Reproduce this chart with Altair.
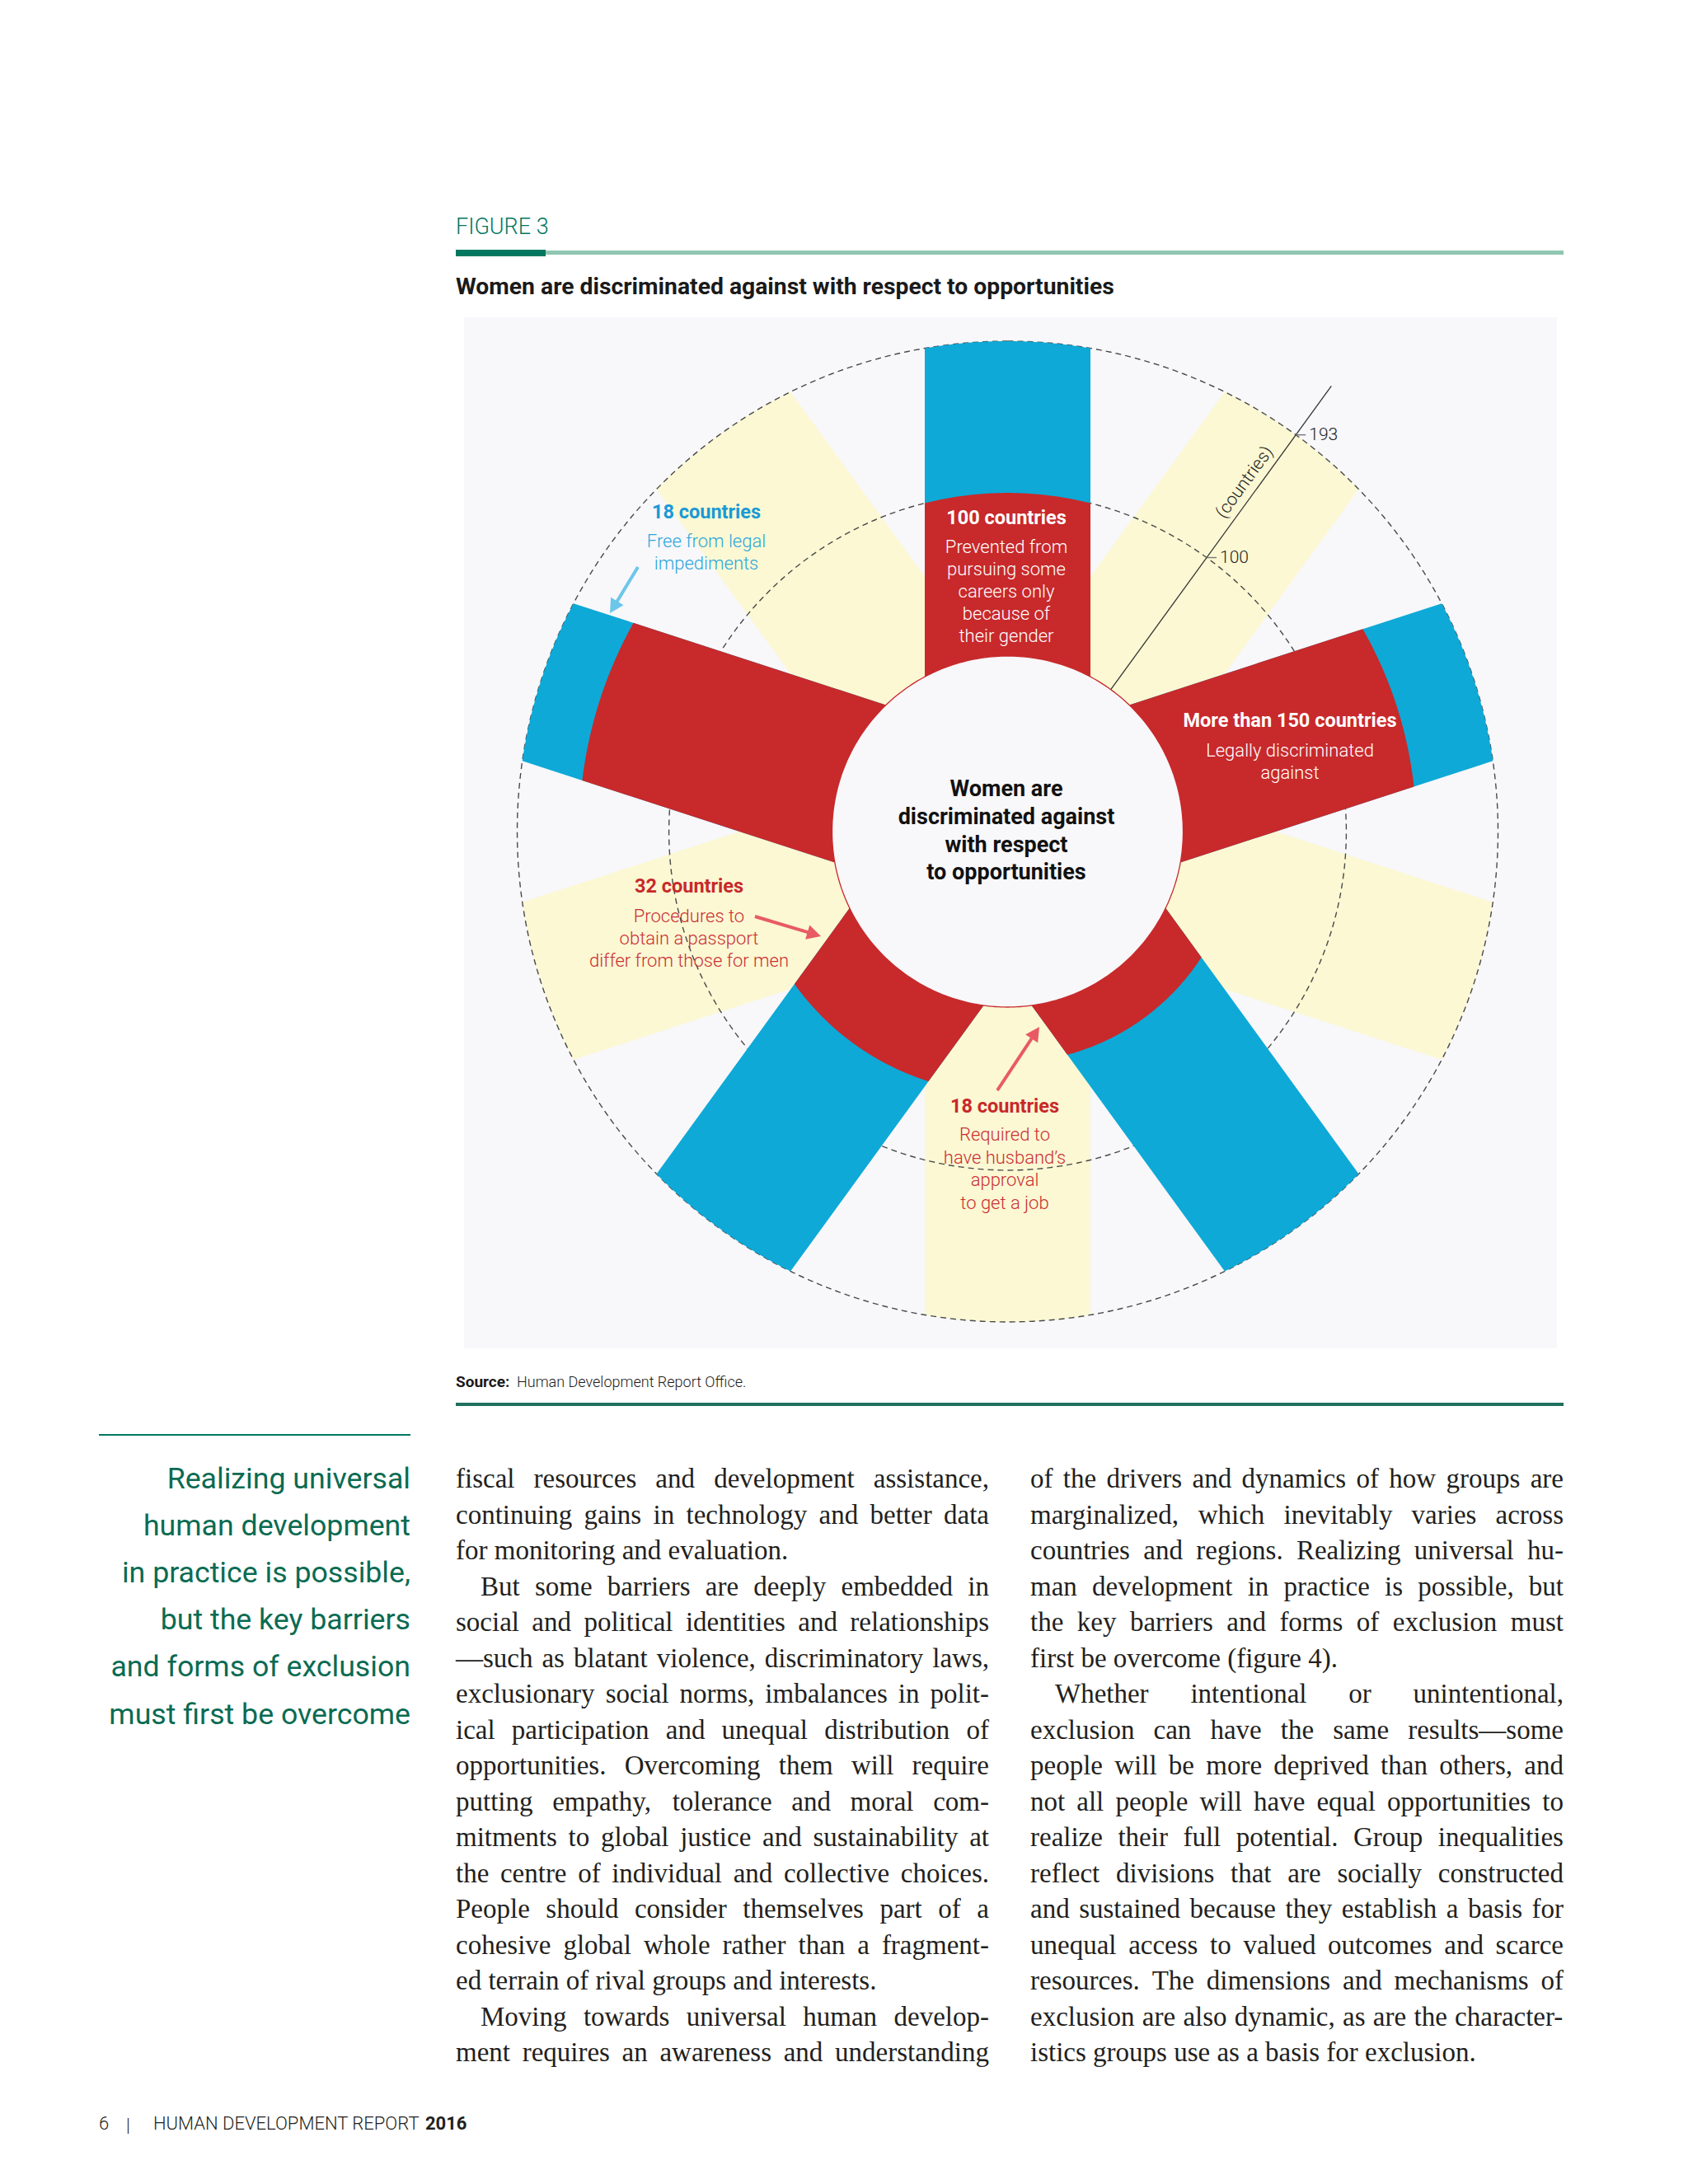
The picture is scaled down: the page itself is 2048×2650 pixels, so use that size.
import math
import altair as alt

# ---------------- data ----------------
spoke_angles = [0, 72, 144, 216, 288]          # degrees, clockwise from 12 o'clock
red_counts = [100, 143, 34, 53, 155]           # countries (red part of each spoke)
total_countries = 193                          # full length of every spoke
band_angles = [36, 108, 180, 252, 324]         # pale yellow spokes (all 193)
ring_values = [100, 193]                       # dashed reference circles
axis_angle = 36
axis_ticks = [100, 193]
axis_extent = 230
axis_title = "(countries)"

callouts = [
    ["18 countries", "Free from legal", "impediments"],
    ["100 countries", "Prevented from", "pursuing some", "careers only", "because of", "their gender"],
    ["More than 150 countries", "Legally discriminated", "against"],
    ["32 countries", "Procedures to", "obtain a passport", "differ from those for men"],
    ["18 countries", "Required to", "have husband\u2019s", "approval", "to get a job"],
]
centre_lines = ["Women are", "discriminated against", "with respect", "to opportunities"]

figure_label = "FIGURE 3"
figure_title = "Women are discriminated against with respect to opportunities"
source_bold = "Source:"
source_text = "Human Development Report Office."
sidebar_lines = ["Realizing universal", "human development", "in practice is possible,",
                 "but the key barriers", "and forms of exclusion", "must first be overcome"]
col1_lines = [
    "fiscal resources and development assistance,",
    "continuing gains in technology and better data",
    "for monitoring and evaluation.",
    "But some barriers are deeply embedded in",
    "social and political identities and relationships",
    "\u2014such as blatant violence, discriminatory laws,",
    "exclusionary social norms, imbalances in polit-",
    "ical participation and unequal distribution of",
    "opportunities. Overcoming them will require",
    "putting empathy, tolerance and moral com-",
    "mitments to global justice and sustainability at",
    "the centre of individual and collective choices.",
    "People should consider themselves part of a",
    "cohesive global whole rather than a fragment-",
    "ed terrain of rival groups and interests.",
    "Moving towards universal human develop-",
    "ment requires an awareness and understanding",
]
col1_par_end = [2, 14]
col1_indent = [3, 15]
col2_lines = [
    "of the drivers and dynamics of how groups are",
    "marginalized, which inevitably varies across",
    "countries and regions. Realizing universal hu-",
    "man development in practice is possible, but",
    "the key barriers and forms of exclusion must",
    "first be overcome (figure 4).",
    "Whether intentional or unintentional,",
    "exclusion can have the same results\u2014some",
    "people will be more deprived than others, and",
    "not all people will have equal opportunities to",
    "realize their full potential. Group inequalities",
    "reflect divisions that are socially constructed",
    "and sustained because they establish a basis for",
    "unequal access to valued outcomes and scarce",
    "resources. The dimensions and mechanisms of",
    "exclusion are also dynamic, as are the character-",
    "istics groups use as a basis for exclusion.",
]
col2_par_end = [5, 16]
col2_indent = [6]
footer_page = "6"
footer_text = "HUMAN DEVELOPMENT REPORT"
footer_year = "2016"

# ---------------- styles / layout ----------------
SANS = "Roboto, 'Liberation Sans', sans-serif"
SERIF = "'Liberation Serif', 'Times New Roman', serif"
RED = "#c8292b"
BLUE = "#0ea9d7"
YEL = "#fbf8d3"
BG = "#f8f7fa"
TEAL = "#00775f"
INK = "#231f20"

CX, CY = 1222.5, 1009.0
R_IN, R_OUT = 213.0, 595.0
HALF = 100.5
K = (R_OUT - R_IN) / total_countries


def rad(v):
    return R_IN + v * K


def polar(r, th):
    t = math.radians(th)
    return [CX + r * math.sin(t), CY - r * math.cos(t)]


def feat(kind, coords):
    return {"type": "Feature", "geometry": {"type": kind, "coordinates": coords}, "properties": {}}


def spoke(th, v0, v1, n=60):
    ra, rb = rad(v0), rad(v1)
    aa = math.degrees(math.asin(HALF / ra))
    ab = math.degrees(math.asin(HALF / rb))
    outer = [polar(rb, th - ab + 2 * ab * i / n) for i in range(n + 1)]
    inner = [polar(ra, th + aa - 2 * aa * i / n) for i in range(n + 1)]
    return feat("Polygon", [outer + inner + [outer[0]]])


def circle(r, n=360):
    return [polar(r, 360 * i / n) for i in range(n + 1)]


def rect(x0, y0, x1, y1):
    return feat("Polygon", [[[x0, y0], [x1, y0], [x1, y1], [x0, y1], [x0, y0]]])


def shapes(features, **mark):
    return alt.Chart(alt.Data(values=features)).mark_geoshape(**mark)


def texts(rows, **mark):
    return alt.Chart(alt.Data(values=rows)).mark_text(**mark).encode(
        longitude=alt.Longitude("x:Q"), latitude=alt.Latitude("y:Q"), text=alt.Text("t:N"))


def arrow(p0, p1, head=17, half=9):
    dx, dy = p1[0] - p0[0], p1[1] - p0[1]
    L = math.hypot(dx, dy)
    ux, uy = dx / L, dy / L
    bx, by = p1[0] - ux * head, p1[1] - uy * head
    shaft = feat("LineString", [p0, [bx + ux * 2, by + uy * 2]])
    tip = feat("Polygon", [[p1, [bx - uy * half, by + ux * half], [bx + uy * half, by - ux * half], p1]])
    return shaft, tip


layers = []

# page furniture
layers.append(shapes([rect(563, 385, 1889, 1636)], fill=BG, strokeWidth=0))
layers.append(shapes([rect(553, 304, 1897, 309)], fill="#8fc6b1", strokeWidth=0))
layers.append(shapes([rect(553, 303, 662, 311)], fill=TEAL, strokeWidth=0))
layers.append(shapes([rect(553, 1702, 1897, 1706)], fill="#1f6f5d", strokeWidth=0))
layers.append(shapes([rect(120, 1740, 498, 1742)], fill=TEAL, strokeWidth=0))

# yellow spokes
layers.append(shapes([spoke(a, 0, total_countries) for a in band_angles], fill=YEL, strokeWidth=0))
# dashed reference rings
layers.append(shapes([feat("LineString", circle(rad(v))) for v in ring_values],
                     filled=False, stroke="#4a4a4a", strokeWidth=1.4, strokeDash=[7, 5]))
# blue spokes then red parts
layers.append(shapes([spoke(a, 0, total_countries) for a in spoke_angles], fill=BLUE, strokeWidth=0))
layers.append(shapes([spoke(a, 0, v) for a, v in zip(spoke_angles, red_counts)], fill=RED, strokeWidth=0))
# centre disc
layers.append(shapes([feat("Polygon", [circle(R_IN)])], fill=BG, stroke=RED, strokeWidth=1.3))

# radial axis
layers.append(shapes([feat("LineString", [polar(R_IN, axis_angle), polar(rad(axis_extent), axis_angle)])],
                     filled=False, stroke="#333333", strokeWidth=1.3))
tick_feats, tick_rows = [], []
for v in axis_ticks:
    p = polar(rad(v), axis_angle)
    tick_feats.append(feat("LineString", [p, [p[0] + 12, p[1]]]))
    tick_rows.append({"x": p[0] + 16, "y": p[1], "t": str(v)})
layers.append(shapes(tick_feats, filled=False, stroke="#777777", strokeWidth=1.4))
layers.append(texts(tick_rows, font=SANS, fontSize=21, fontWeight=300, color="#222222",
                    align="left", baseline="middle"))
pa = polar(rad(151), axis_angle)
na = (math.cos(math.radians(axis_angle)), math.sin(math.radians(axis_angle)))
layers.append(texts([{"x": pa[0] - 10 * na[0], "y": pa[1] - 10 * na[1], "t": axis_title}],
                    font=SANS, fontSize=21.5, fontWeight=300, color="#222222", align="center",
                    baseline="alphabetic", angle=360 - (90 - axis_angle)))

# arrows
for (p0, p1), col in [(([774, 688], [740, 744]), "#6cc6ea"),
                      (([916, 1112], [996, 1136]), "#e85b62"),
                      (([1210, 1323], [1261, 1246]), "#e85b62")]:
    s, h = arrow(p0, p1)
    layers.append(shapes([s], filled=False, stroke=col, strokeWidth=4))
    layers.append(shapes([h], fill=col, strokeWidth=0))

# callout texts
blocks = [
    (callouts[0], 857, 622, 657, 27.3, "#1a9ad5", "#2ba7dc"),
    (callouts[1], 1221, 629, 664, 27.0, "white", "white"),
    (callouts[2], 1565, 875, 911, 27.0, "white", "white"),
    (callouts[3], 836, 1076, 1112, 27.0, RED, "#cc2e33"),
    (callouts[4], 1219, 1343, 1377, 27.5, RED, "#cc2e33"),
]
for lines, x, yh, y1, sp, c_head, c_body in blocks:
    layers.append(texts([{"x": x, "y": yh, "t": lines[0]}], font=SANS, fontSize=23.5, fontWeight="bold",
                        color=c_head, align="center", baseline="middle"))
    layers.append(texts([{"x": x, "y": y1 + i * sp, "t": t} for i, t in enumerate(lines[1:])],
                        font=SANS, fontSize=22, fontWeight=300, color=c_body, align="center",
                        baseline="middle"))
layers.append(texts([{"x": 1221, "y": 958 + i * 33.8, "t": t} for i, t in enumerate(centre_lines)],
                    font=SANS, fontSize=27, fontWeight="bold", color="#111111", align="center",
                    baseline="middle"))

# header, source, sidebar, footer
layers.append(texts([{"x": 553, "y": 284, "t": figure_label}], font=SANS, fontSize=27, fontWeight=300,
                    color=TEAL, align="left", baseline="alphabetic"))
layers.append(texts([{"x": 553, "y": 357, "t": figure_title}], font=SANS, fontSize=28.3, fontWeight="bold",
                    color="#1a1a1a", align="left", baseline="alphabetic"))
layers.append(texts([{"x": 553, "y": 1683, "t": source_bold}], font=SANS, fontSize=19, fontWeight="bold",
                    color="#1a1a1a", align="left", baseline="alphabetic"))
layers.append(texts([{"x": 627, "y": 1683, "t": source_text}], font=SANS, fontSize=18, fontWeight=300,
                    color="#1a1a1a", align="left", baseline="alphabetic"))
layers.append(texts([{"x": 498, "y": 1806 + i * 57.1, "t": t} for i, t in enumerate(sidebar_lines)],
                    font=SANS, fontSize=35.7, fontWeight=400, color="#0b6b52", align="right",
                    baseline="alphabetic"))
layers.append(texts([{"x": 120, "y": 2584, "t": footer_page}, {"x": 153, "y": 2586, "t": "|"},
                     {"x": 186, "y": 2584, "t": footer_text}],
                    font=SANS, fontSize=22, fontWeight=300, color="#231f20", align="left",
                    baseline="alphabetic"))
layers.append(texts([{"x": 516, "y": 2584, "t": footer_year}], font=SANS, fontSize=22, fontWeight="bold",
                    color="#231f20", align="left", baseline="alphabetic"))

# body text, justified with Times metrics
TW = dict(zip("abcdefghijklmnopqrstuvwxyz",
              [444, 500, 444, 500, 444, 333, 500, 500, 278, 278, 500, 278, 778, 500, 500, 500, 500, 333,
               389, 278, 500, 500, 722, 500, 500, 444]))
TW.update(dict(zip("ABCDEFGHIJKLMNOPQRSTUVWXYZ",
                   [722, 667, 667, 722, 611, 556, 722, 722, 333, 389, 722, 611, 889, 722, 722, 556, 722,
                    667, 556, 611, 722, 722, 944, 722, 722, 611])))
TW.update({" ": 250, ",": 250, ".": 250, "-": 333, "\u2014": 1000, "(": 333, ")": 333, "4": 500})


def em(s):
    return sum(TW.get(c, 500) for c in s) / 1000.0


COLW = 647
INDENT = 30
LINE_H = 43.5
BASE0 = 1805
widest = max(max(em(l) for l in col1_lines), max(em(l) for l in col2_lines))
FS = min(33.0, (COLW - 4) / widest)

body_rows = []
for x0, lines, ends, indents in [(553, col1_lines, col1_par_end, col1_indent),
                                 (1250, col2_lines, col2_par_end, col2_indent)]:
    for i, line in enumerate(lines):
        y = BASE0 + i * LINE_H
        left = x0 + (INDENT if i in indents else 0)
        words = line.split(" ")
        if i in ends or len(words) == 1:
            body_rows.append({"x": left, "y": y, "t": line})
            continue
        ww = [em(w) * FS for w in words]
        gap = (x0 + COLW - left - sum(ww)) / (len(words) - 1)
        xx = left
        for w, wdt in zip(words, ww):
            body_rows.append({"x": xx, "y": y, "t": w})
            xx += wdt + gap
layers.append(texts(body_rows, font=SERIF, fontSize=FS, color=INK, align="left", baseline="alphabetic"))

chart = alt.layer(*layers).properties(
    width=2032, height=2634,
    projection=alt.Projection(type="identity", scale=1, translate=[-8, -8]),
    padding=0, autosize=alt.AutoSizeParams(type="none"), background="white",
).configure_view(strokeWidth=0)

chart.save("out.html", embed_options={"renderer": "svg", "actions": False})
